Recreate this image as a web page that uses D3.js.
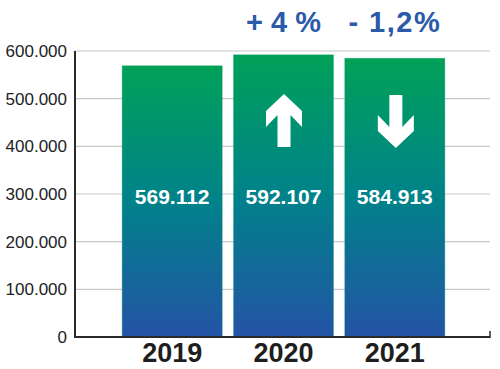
<!DOCTYPE html>
<html><head><meta charset="utf-8">
<script src="https://cdn.jsdelivr.net/npm/d3@7"></script>
<style>html,body{margin:0;padding:0;background:#fff}svg{display:block}</style>
</head><body><svg id="c" width="500" height="369"></svg>
<script>
const categories = ["2019", "2020", "2021"];
const values = [569112, 592107, 584913];
const valueLabels = ["569.112", "592.107", "584.913"];
const changeLabels = [null, "+ 4 %", "- 1,2%"];
const changeDirection = [0, 1, -1];
const yTicks = [0, 100000, 200000, 300000, 400000, 500000, 600000];
const yTickLabels = ["0", "100.000", "200.000", "300.000", "400.000", "500.000", "600.000"];

const svg = d3.select("#c");
const x = d3.scaleBand().domain(categories).range([116.5, 450.5]).paddingInner(0.1).paddingOuter(0.05);
const y = d3.scaleLinear().domain([0, 600000]).range([337, 51]);
const x0 = 75, x1 = 490;

const defs = svg.append("defs");
const g = defs.append("linearGradient").attr("id", "bg").attr("x1", 0).attr("y1", 0).attr("x2", 0).attr("y2", 1);
g.append("stop").attr("offset", "0%").attr("stop-color", "#00a158");
g.append("stop").attr("offset", "50%").attr("stop-color", "#00828a");
g.append("stop").attr("offset", "100%").attr("stop-color", "#2453a6");

// gridlines
svg.append("g").selectAll("line").data(yTicks.filter(d => d > 0)).join("line")
  .attr("x1", x0).attr("x2", x1).attr("y1", d => y(d)).attr("y2", d => y(d))
  .attr("stroke", "#c8c8c8").attr("stroke-width", 1.2);

// tick labels
svg.append("g").selectAll("text").data(yTicks).join("text")
  .attr("x", 67).attr("y", d => y(d)).attr("dy", "0.36em")
  .attr("text-anchor", "end").attr("font-family", "Liberation Sans, Arial, sans-serif")
  .attr("font-size", 17).attr("fill", "#222")
  .text((d, i) => yTickLabels[i]);

// bars
svg.append("g").selectAll("rect").data(values).join("rect")
  .attr("x", (d, i) => x(categories[i])).attr("width", x.bandwidth())
  .attr("y", d => y(d)).attr("height", d => y(0) - y(d))
  .attr("fill", "url(#bg)").attr("stroke", "#3fb98a").attr("stroke-width", 0.6).attr("stroke-opacity", 0.6);

// axes
svg.append("line").attr("x1", x0).attr("x2", x0).attr("y1", y(600000)).attr("y2", y(0) + 1)
  .attr("stroke", "#2a2a2a").attr("stroke-width", 2);
svg.append("line").attr("x1", x0 - 1).attr("x2", x1).attr("y1", y(0)).attr("y2", y(0))
  .attr("stroke", "#2a2a2a").attr("stroke-width", 2);
svg.append("line").attr("x1", x1).attr("x2", x1).attr("y1", y(0) + 1).attr("y2", y(0) - 6)
  .attr("stroke", "#2a2a2a").attr("stroke-width", 1.5);

// value labels
svg.append("g").selectAll("text").data(valueLabels).join("text")
  .attr("x", (d, i) => x(categories[i]) + x.bandwidth() / 2).attr("y", 204)
  .attr("text-anchor", "middle").attr("font-family", "Liberation Sans, Arial, sans-serif")
  .attr("font-weight", "bold").attr("font-size", 21).attr("fill", "#fff")
  .text(d => d);

// year labels
svg.append("g").selectAll("text").data(categories).join("text")
  .attr("x", d => x(d) + x.bandwidth() / 2).attr("y", 362)
  .attr("text-anchor", "middle").attr("font-family", "Liberation Sans, Arial, sans-serif")
  .attr("font-weight", "bold").attr("font-size", 27).attr("fill", "#1e1e1e")
  .text(d => d);

// change labels
svg.append("g").selectAll("text").data(changeLabels.map((t, i) => ({t, i})).filter(d => d.t)).join("text")
  .attr("x", d => x(categories[d.i]) + x.bandwidth() / 2).attr("y", 32)
  .attr("text-anchor", "middle").attr("font-family", "Liberation Sans, Arial, sans-serif")
  .attr("font-weight", "bold").attr("font-size", 29).attr("fill", "#2a5aa8")
  .attr("letter-spacing", d => d.i === 2 ? 1.5 : 0)
  .text(d => d.t);

// arrows
const upArrow = [[0,0],[-18,17],[-18,33],[-6.5,21],[-6.5,53],[6.5,53],[6.5,21],[18,33],[18,17]];
changeDirection.forEach((dir, i) => {
  if (!dir) return;
  const cx = x(categories[i]) + x.bandwidth() / 2 + (dir > 0 ? 0.5 : 1);
  let pts;
  if (dir > 0) pts = upArrow.map(([a, b]) => [cx + a, 94 + b]);
  else pts = upArrow.map(([a, b]) => [cx + a, 148 - b]);
  svg.append("polygon").attr("points", pts.map(p => p.join(",")).join(" ")).attr("fill", "#fff");
});
</script></body></html>
